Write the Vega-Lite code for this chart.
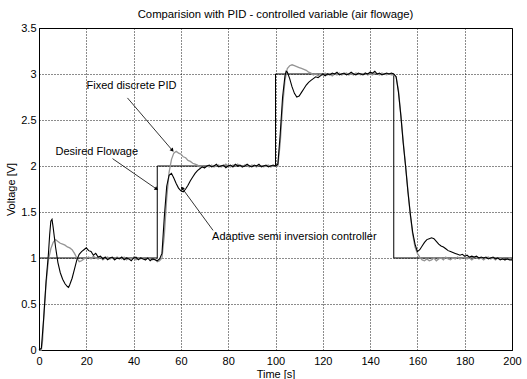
{
  "$schema": "https://vega.github.io/schema/vega-lite/v6.json",
  "width": 473,
  "height": 322,
  "autosize": "none",
  "padding": {"left": 39, "top": 28, "right": 15, "bottom": 29},
  "background": "white",
  "title": {"text": "Comparision with PID - controlled variable (air flowage)", "fontSize": 11.3, "fontWeight": "normal", "font": "Liberation Sans", "color": "black", "offset": 2},
  "datasets": {
    "desired": [{"t":0,"v":1},{"t":50,"v":2},{"t":100,"v":3},{"t":150,"v":1},{"t":200,"v":1}],
    "adaptive": [{"t":0,"v":0},{"t":1,"v":0.02},{"t":2,"v":0.35},{"t":3,"v":0.75},{"t":4,"v":1.05},{"t":4.5,"v":1.25},{"t":5,"v":1.4},{"t":5.5,"v":1.42},{"t":6,"v":1.33},{"t":7,"v":1.12},{"t":8,"v":0.95},{"t":9,"v":0.84},{"t":10,"v":0.77},{"t":11,"v":0.72},{"t":12,"v":0.69},{"t":12.5,"v":0.68},{"t":13,"v":0.71},{"t":14,"v":0.78},{"t":15,"v":0.88},{"t":16,"v":0.98},{"t":17,"v":1.04},{"t":18,"v":1.07},{"t":19,"v":1.09},{"t":20,"v":1.11},{"t":21,"v":1.08},{"t":22,"v":1.07},{"t":23,"v":1.03},{"t":24,"v":1.05},{"t":25,"v":1.01},{"t":26,"v":1.02},{"t":27,"v":0.99},{"t":28,"v":1.01},{"t":29,"v":0.98},{"t":30,"v":1.0},{"t":31,"v":1.01},{"t":32,"v":0.98},{"t":33,"v":1.0},{"t":34,"v":0.99},{"t":35,"v":1.01},{"t":36,"v":0.98},{"t":37,"v":1.0},{"t":38,"v":0.99},{"t":39,"v":0.97},{"t":40,"v":1.0},{"t":41,"v":1.01},{"t":42,"v":0.98},{"t":43,"v":1.0},{"t":44,"v":0.99},{"t":45,"v":0.98},{"t":46,"v":1.0},{"t":47,"v":0.97},{"t":48,"v":0.99},{"t":49,"v":0.98},{"t":50,"v":0.97},{"t":51,"v":0.99},{"t":52,"v":1.05},{"t":53,"v":1.45},{"t":54,"v":1.78},{"t":55,"v":1.9},{"t":56,"v":1.92},{"t":57,"v":1.87},{"t":58,"v":1.81},{"t":59,"v":1.76},{"t":60,"v":1.73},{"t":61,"v":1.72},{"t":62,"v":1.75},{"t":63,"v":1.79},{"t":64,"v":1.84},{"t":65,"v":1.88},{"t":66,"v":1.92},{"t":67,"v":1.95},{"t":68,"v":1.97},{"t":69,"v":1.99},{"t":70,"v":1.98},{"t":71,"v":2.0},{"t":72,"v":2.01},{"t":73,"v":1.99},{"t":74,"v":2.0},{"t":75,"v":2.02},{"t":76,"v":1.99},{"t":77,"v":2.0},{"t":78,"v":2.01},{"t":79,"v":1.98},{"t":80,"v":2.0},{"t":81,"v":2.01},{"t":82,"v":1.99},{"t":83,"v":2.02},{"t":84,"v":2.0},{"t":85,"v":2.01},{"t":86,"v":1.99},{"t":87,"v":2.0},{"t":88,"v":2.02},{"t":89,"v":2.0},{"t":90,"v":1.99},{"t":91,"v":2.01},{"t":92,"v":2.0},{"t":93,"v":2.02},{"t":94,"v":1.99},{"t":95,"v":2.0},{"t":96,"v":2.01},{"t":97,"v":1.99},{"t":98,"v":2.0},{"t":99,"v":2.01},{"t":100,"v":2.0},{"t":101,"v":2.02},{"t":102,"v":2.35},{"t":103,"v":2.75},{"t":104,"v":2.98},{"t":104.5,"v":3.03},{"t":105,"v":3.02},{"t":106,"v":2.95},{"t":107,"v":2.86},{"t":108,"v":2.79},{"t":109,"v":2.75},{"t":110,"v":2.76},{"t":111,"v":2.8},{"t":112,"v":2.84},{"t":113,"v":2.88},{"t":114,"v":2.91},{"t":115,"v":2.93},{"t":116,"v":2.95},{"t":117,"v":2.97},{"t":118,"v":2.96},{"t":119,"v":2.98},{"t":120,"v":3.0},{"t":121,"v":2.98},{"t":122,"v":3.0},{"t":123,"v":2.99},{"t":124,"v":3.01},{"t":125,"v":3.0},{"t":126,"v":3.02},{"t":127,"v":2.99},{"t":128,"v":3.0},{"t":129,"v":3.01},{"t":130,"v":2.99},{"t":131,"v":3.0},{"t":132,"v":3.02},{"t":133,"v":3.0},{"t":134,"v":2.99},{"t":135,"v":3.01},{"t":136,"v":3.0},{"t":137,"v":2.99},{"t":138,"v":3.01},{"t":139,"v":3.0},{"t":140,"v":3.02},{"t":141,"v":3.01},{"t":142,"v":3.03},{"t":143,"v":3.0},{"t":144,"v":3.01},{"t":145,"v":2.99},{"t":146,"v":3.0},{"t":147,"v":3.01},{"t":148,"v":3.0},{"t":149,"v":3.01},{"t":150,"v":3.0},{"t":151,"v":2.97},{"t":152,"v":2.8},{"t":153,"v":2.55},{"t":154,"v":2.25},{"t":155,"v":2.0},{"t":156,"v":1.72},{"t":157,"v":1.48},{"t":158,"v":1.28},{"t":159,"v":1.15},{"t":160,"v":1.07},{"t":161,"v":1.09},{"t":162,"v":1.13},{"t":163,"v":1.17},{"t":164,"v":1.2},{"t":165,"v":1.21},{"t":166,"v":1.22},{"t":167,"v":1.21},{"t":168,"v":1.18},{"t":169,"v":1.15},{"t":170,"v":1.13},{"t":171,"v":1.12},{"t":172,"v":1.1},{"t":173,"v":1.08},{"t":174,"v":1.07},{"t":175,"v":1.06},{"t":176,"v":1.05},{"t":177,"v":1.04},{"t":178,"v":1.03},{"t":179,"v":1.04},{"t":180,"v":1.02},{"t":181,"v":1.03},{"t":182,"v":1.01},{"t":183,"v":1.02},{"t":184,"v":1.01},{"t":185,"v":1.02},{"t":186,"v":1.0},{"t":187,"v":1.01},{"t":188,"v":1.0},{"t":189,"v":1.01},{"t":190,"v":0.99},{"t":191,"v":1.0},{"t":192,"v":1.01},{"t":193,"v":0.99},{"t":194,"v":1.0},{"t":195,"v":0.98},{"t":196,"v":0.99},{"t":197,"v":0.98},{"t":198,"v":0.99},{"t":199,"v":0.98},{"t":200,"v":0.98}],
    "pid": [{"t":0,"v":0},{"t":1,"v":0.0},{"t":1.5,"v":0.1},{"t":2,"v":0.35},{"t":3,"v":0.72},{"t":4,"v":0.98},{"t":5,"v":1.1},{"t":6,"v":1.17},{"t":7,"v":1.2},{"t":8,"v":1.18},{"t":9,"v":1.16},{"t":10,"v":1.15},{"t":11,"v":1.14},{"t":12,"v":1.12},{"t":13,"v":1.11},{"t":14,"v":1.09},{"t":15,"v":1.05},{"t":16,"v":1.0},{"t":17,"v":0.96},{"t":18,"v":0.97},{"t":19,"v":0.99},{"t":20,"v":1.0},{"t":21,"v":1.01},{"t":22,"v":0.99},{"t":23,"v":1.02},{"t":24,"v":1.0},{"t":25,"v":0.99},{"t":26,"v":1.01},{"t":27,"v":0.98},{"t":28,"v":1.0},{"t":29,"v":1.01},{"t":30,"v":0.99},{"t":31,"v":1.0},{"t":32,"v":0.98},{"t":33,"v":1.01},{"t":34,"v":1.0},{"t":35,"v":0.99},{"t":36,"v":1.01},{"t":37,"v":0.98},{"t":38,"v":1.0},{"t":39,"v":0.99},{"t":40,"v":1.01},{"t":41,"v":0.98},{"t":42,"v":1.0},{"t":43,"v":0.99},{"t":44,"v":1.0},{"t":45,"v":0.98},{"t":46,"v":1.0},{"t":47,"v":0.99},{"t":48,"v":0.98},{"t":49,"v":0.99},{"t":50,"v":0.96},{"t":51,"v":0.97},{"t":52,"v":1.0},{"t":53,"v":1.25},{"t":54,"v":1.65},{"t":55,"v":1.93},{"t":56,"v":2.07},{"t":57,"v":2.14},{"t":58,"v":2.16},{"t":59,"v":2.14},{"t":60,"v":2.13},{"t":61,"v":2.1},{"t":62,"v":2.09},{"t":63,"v":2.06},{"t":64,"v":2.05},{"t":65,"v":2.03},{"t":66,"v":2.02},{"t":67,"v":2.01},{"t":68,"v":1.99},{"t":69,"v":2.0},{"t":70,"v":1.98},{"t":71,"v":2.0},{"t":72,"v":1.99},{"t":73,"v":2.01},{"t":74,"v":1.99},{"t":75,"v":2.0},{"t":76,"v":2.01},{"t":77,"v":1.99},{"t":78,"v":2.0},{"t":79,"v":2.02},{"t":80,"v":2.0},{"t":81,"v":1.99},{"t":82,"v":2.01},{"t":83,"v":2.0},{"t":84,"v":2.02},{"t":85,"v":2.0},{"t":86,"v":1.99},{"t":87,"v":2.01},{"t":88,"v":2.0},{"t":89,"v":1.99},{"t":90,"v":2.01},{"t":91,"v":2.0},{"t":92,"v":1.99},{"t":93,"v":2.01},{"t":94,"v":2.0},{"t":95,"v":1.99},{"t":96,"v":2.0},{"t":97,"v":2.01},{"t":98,"v":1.99},{"t":99,"v":2.0},{"t":100,"v":2.0},{"t":101,"v":2.0},{"t":102,"v":2.25},{"t":103,"v":2.65},{"t":104,"v":2.93},{"t":105,"v":3.06},{"t":106,"v":3.09},{"t":107,"v":3.1},{"t":108,"v":3.09},{"t":109,"v":3.08},{"t":110,"v":3.07},{"t":111,"v":3.06},{"t":112,"v":3.05},{"t":113,"v":3.04},{"t":114,"v":3.02},{"t":115,"v":3.01},{"t":116,"v":2.99},{"t":117,"v":3.0},{"t":118,"v":2.98},{"t":119,"v":3.0},{"t":120,"v":2.99},{"t":121,"v":3.01},{"t":122,"v":2.99},{"t":123,"v":3.0},{"t":124,"v":2.98},{"t":125,"v":3.0},{"t":126,"v":2.99},{"t":127,"v":3.01},{"t":128,"v":2.99},{"t":129,"v":3.0},{"t":130,"v":3.01},{"t":131,"v":2.99},{"t":132,"v":3.0},{"t":133,"v":2.99},{"t":134,"v":3.01},{"t":135,"v":3.0},{"t":136,"v":2.99},{"t":137,"v":3.0},{"t":138,"v":3.01},{"t":139,"v":2.99},{"t":140,"v":3.0},{"t":141,"v":2.99},{"t":142,"v":3.01},{"t":143,"v":3.0},{"t":144,"v":2.99},{"t":145,"v":3.01},{"t":146,"v":3.0},{"t":147,"v":2.99},{"t":148,"v":3.0},{"t":149,"v":2.99},{"t":150,"v":2.99},{"t":151,"v":2.97},{"t":152,"v":2.82},{"t":153,"v":2.55},{"t":154,"v":2.27},{"t":155,"v":2.0},{"t":156,"v":1.73},{"t":157,"v":1.47},{"t":158,"v":1.26},{"t":159,"v":1.12},{"t":160,"v":1.05},{"t":161,"v":1.01},{"t":162,"v":0.98},{"t":163,"v":0.97},{"t":164,"v":0.99},{"t":165,"v":0.97},{"t":166,"v":0.98},{"t":167,"v":1.0},{"t":168,"v":0.97},{"t":169,"v":0.99},{"t":170,"v":1.0},{"t":171,"v":0.98},{"t":172,"v":1.01},{"t":173,"v":0.99},{"t":174,"v":0.98},{"t":175,"v":1.0},{"t":176,"v":0.99},{"t":177,"v":1.01},{"t":178,"v":0.99},{"t":179,"v":1.0},{"t":180,"v":1.01},{"t":181,"v":0.99},{"t":182,"v":1.0},{"t":183,"v":0.98},{"t":184,"v":1.0},{"t":185,"v":1.01},{"t":186,"v":0.99},{"t":187,"v":1.0},{"t":188,"v":0.98},{"t":189,"v":1.0},{"t":190,"v":1.01},{"t":191,"v":0.99},{"t":192,"v":1.0},{"t":193,"v":0.98},{"t":194,"v":1.0},{"t":195,"v":0.99},{"t":196,"v":1.0},{"t":197,"v":0.98},{"t":198,"v":0.99},{"t":199,"v":1.0},{"t":200,"v":0.98}],
    "labels": [{"t":20.1,"v":2.87,"label":"Fixed discrete PID"},{"t":7.0,"v":2.15,"label":"Desired Flowage"},{"t":73.2,"v":1.23,"label":"Adaptive semi inversion controller"}],
    "arrows": [{"name":"pid","t":37.4,"v":2.74,"t2":56.4,"v2":2.17},{"name":"desired","t":31.1,"v":2.08,"t2":49.7,"v2":1.75},{"name":"adaptive","t":73.6,"v":1.3,"t2":60.5,"v2":1.76}]
  },
  "encoding": {
    "x": {"field": "t", "type": "quantitative", "scale": {"domain": [0, 200], "nice": false}, "axis": {"values": [0,20,40,60,80,100,120,140,160,180,200], "title": "Time [s]"}},
    "y": {"field": "v", "type": "quantitative", "scale": {"domain": [0, 3.5], "nice": false}, "axis": {"values": [0,0.5,1,1.5,2,2.5,3,3.5], "format": "~g", "title": "Voltage [V]"}}
  },
  "layer": [
    {"data": {"name": "desired"}, "mark": {"type": "line", "interpolate": "step-after", "color": "black", "strokeWidth": 1}, "encoding": {}},
    {"data": {"name": "pid"}, "mark": {"type": "line", "color": "#959595", "strokeWidth": 1.3}, "encoding": {}},
    {"data": {"name": "adaptive"}, "mark": {"type": "line", "color": "black", "strokeWidth": 1.1}, "encoding": {}},
    {"data": {"name": "arrows"}, "mark": {"type": "rule", "color": "black", "strokeWidth": 0.8}, "encoding": {"x2": {"field": "t2"}, "y2": {"field": "v2"}}},
    {"data": {"name": "arrows"}, "transform": [{"filter": "datum.name === 'pid'"}], "mark": {"type": "point", "shape": "triangle-up", "filled": true, "color": "black", "size": 18, "angle": 139, "opacity": 1}, "encoding": {"x": {"field": "t2", "type": "quantitative"}, "y": {"field": "v2", "type": "quantitative"}}},
    {"data": {"name": "arrows"}, "transform": [{"filter": "datum.name === 'desired'"}], "mark": {"type": "point", "shape": "triangle-up", "filled": true, "color": "black", "size": 18, "angle": 124, "opacity": 1}, "encoding": {"x": {"field": "t2", "type": "quantitative"}, "y": {"field": "v2", "type": "quantitative"}}},
    {"data": {"name": "arrows"}, "transform": [{"filter": "datum.name === 'adaptive'"}], "mark": {"type": "point", "shape": "triangle-up", "filled": true, "color": "black", "size": 18, "angle": 324, "opacity": 1}, "encoding": {"x": {"field": "t2", "type": "quantitative"}, "y": {"field": "v2", "type": "quantitative"}}},
    {"data": {"name": "labels"}, "mark": {"type": "text", "align": "left", "baseline": "middle", "font": "Liberation Sans", "fontSize": 11, "color": "black"}, "encoding": {"text": {"field": "label"}}}
  ],
  "config": {
    "view": {"stroke": "black", "strokeWidth": 1},
    "font": "Liberation Sans",
    "axis": {
      "labelFont": "Liberation Sans", "labelFontSize": 11, "labelColor": "black",
      "titleFont": "Liberation Sans", "titleFontSize": 11, "titleFontWeight": "normal", "titleColor": "black",
      "domainColor": "black", "domainWidth": 1,
      "ticks": false, "labelPadding": 3,
      "grid": true, "gridColor": "black", "gridDash": [1, 2], "gridOpacity": 0.9, "gridWidth": 1,
      "labelFlush": false, "labelOverlap": false
    },
    "axisX": {"titlePadding": 2, "labelPadding": 5},
    "axisY": {"titlePadding": 4}
  }
}
